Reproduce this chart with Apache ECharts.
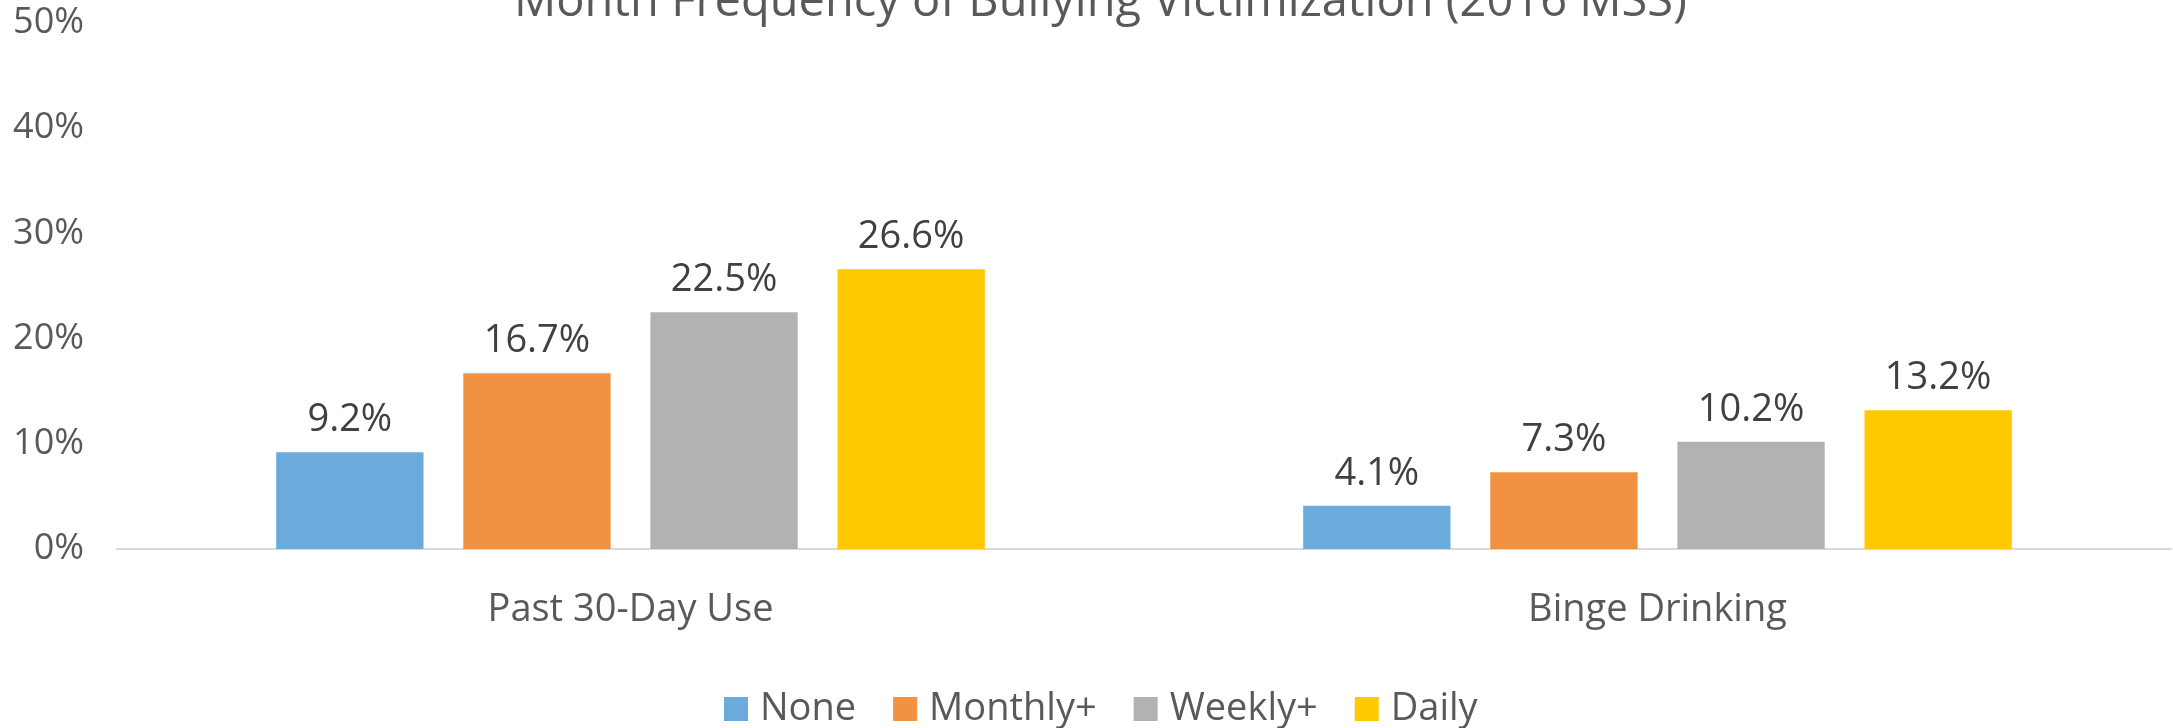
<!DOCTYPE html>
<html>
<head>
<meta charset="utf-8">
<script src="https://cdn.jsdelivr.net/npm/echarts@6/dist/echarts.min.js"></script>
<style>
	html, body { margin: 0; padding: 0; background: #fff; }
	#chart { width: 2173px; height: 728px; }
</style>
</head>
<body>
<div id="chart"></div>
<script>
	// categories and series (values in %)
	var categories = ['Past 30-Day Use', 'Binge Drinking'];
	var seriesNames = ['None', 'Monthly+', 'Weekly+', 'Daily'];
	var noneVals = [9.2, 4.1];
	var monthlyVals = [16.7, 7.3];
	var weeklyVals = [22.5, 10.2];
	var dailyVals = [26.6, 13.2];
	var yTicks = [0, 10, 20, 30, 40, 50];

	var colors = ['#6AABDC', '#F19242', '#B2B2B2', '#FFC900'];
	var font = '"Open Sans", "DejaVu Sans", sans-serif';

	var chart = echarts.init(document.getElementById('chart'));

	function makeSeries(name, data, idx) {
		return {
			name: name,
			type: 'bar',
			data: data,
			barGap: '27%',
			barCategoryGap: '31%',
			itemStyle: { color: colors[idx] },
			label: {
				show: true,
				position: 'top',
				distance: 13,
				color: '#404040',
				fontFamily: font,
				fontSize: 38,
				formatter: function (p) { return p.value.toFixed(1) + '%'; }
			}
		};
	}

	var option = {
		backgroundColor: '#fff',
		animation: false,
		title: {
			text: 'Month Frequency of Bullying Victimization (2016 MSS)',
			left: 514,
			top: -21,
			padding: 0,
			textStyle: {
				color: '#595959',
				fontFamily: font,
				fontSize: 47,
				fontWeight: 'normal'
			}
		},
		legend: {
			data: seriesNames,
			left: 724,
			top: 690,
			padding: 0,
			itemWidth: 24,
			itemHeight: 24,
			itemGap: 37,
			icon: 'rect',
			textStyle: {
				color: '#595959',
				fontFamily: font,
				fontSize: 38,
				padding: [0, 0, 0, 7]
			}
		},
		grid: {
			left: 117,
			right: 2,
			top: 23,
			bottom: 179,
			outerBoundsMode: 'none'
		},
		xAxis: {
			type: 'category',
			data: categories,
			axisTick: { show: false },
			axisLine: { lineStyle: { color: '#D9D9D9', width: 2 } },
			axisLabel: {
				margin: 42,
				color: '#595959',
				fontFamily: font,
				fontSize: 38
			}
		},
		yAxis: {
			type: 'value',
			min: yTicks[0],
			max: yTicks[yTicks.length - 1],
			interval: yTicks[1] - yTicks[0],
			splitLine: { show: false },
			axisLine: { show: false },
			axisTick: { show: false },
			axisLabel: {
				margin: 33,
				color: '#595959',
				fontFamily: font,
				fontSize: 36,
				formatter: '{value}%'
			}
		},
		series: [
			makeSeries(seriesNames[0], noneVals, 0),
			makeSeries(seriesNames[1], monthlyVals, 1),
			makeSeries(seriesNames[2], weeklyVals, 2),
			makeSeries(seriesNames[3], dailyVals, 3)
		]
	};

	chart.setOption(option);
</script>
</body>
</html>
